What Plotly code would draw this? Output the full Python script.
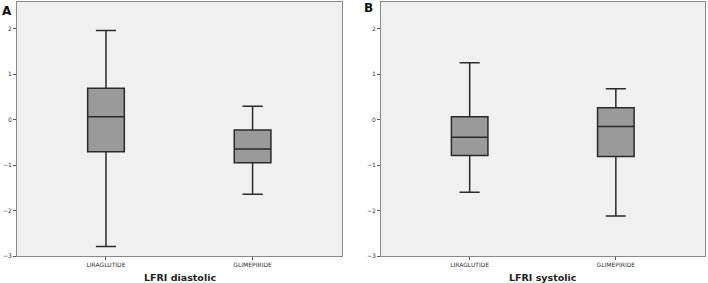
import plotly.graph_objects as go

categories = ["LIRAGLUTIDE", "GLIMEPIRIDE"]

dia_lower = [-2.79, -1.64]
dia_q1 = [-0.71, -0.95]
dia_median = [0.06, -0.65]
dia_q3 = [0.69, -0.23]
dia_upper = [1.96, 0.29]

sys_lower = [-1.60, -2.12]
sys_q1 = [-0.79, -0.81]
sys_median = [-0.39, -0.15]
sys_q3 = [0.06, 0.26]
sys_upper = [1.25, 0.68]

y_ticks = [-3, -2, -1, 0, 1, 2]
panel_titles = ["LFRI diastolic", "LFRI systolic"]
panel_letters = ["A", "B"]

fig = go.Figure()

panels = [
    (dia_lower, dia_q1, dia_median, dia_q3, dia_upper, "x", "y"),
    (sys_lower, sys_q1, sys_median, sys_q3, sys_upper, "x2", "y2"),
]
for lo, q1, med, q3, up, xa, ya in panels:
    fig.add_trace(go.Box(
        x=categories, q1=q1, median=med, q3=q3,
        lowerfence=lo, upperfence=up,
        boxpoints=False, width=0.25, whiskerwidth=0.55,
        fillcolor="#9a9a9a",
        line=dict(color="#2a2a2a", width=1.5),
        xaxis=xa, yaxis=ya, showlegend=False, hoverinfo="skip",
    ))

font_family = "DejaVu Sans"
axis_common = dict(
    showgrid=False, zeroline=False, showline=True, linecolor="#8a8a8a",
    linewidth=1, mirror=True, ticks="outside", ticklen=3, tickcolor="#555",
    tickfont=dict(size=6, color="#333", family=font_family),
)
fig.update_layout(
    width=708, height=283,
    margin=dict(l=17, r=3, t=2, b=27),
    paper_bgcolor="white", plot_bgcolor="#f0f0f0",
    xaxis=dict(domain=[0, 0.4724], type="category", range=[-0.607, 1.61],
               categoryorder="array", categoryarray=categories, **axis_common),
    xaxis2=dict(domain=[0.529, 1], type="category", range=[-0.607, 1.61],
                categoryorder="array", categoryarray=categories, **axis_common),
    yaxis=dict(range=[-3, 2.585], tickvals=y_ticks, anchor="x", **axis_common),
    yaxis2=dict(range=[-3, 2.585], tickvals=y_ticks, anchor="x2", **axis_common),
)

centers = [0.4724 / 2, (0.529 + 1) / 2]
for i in range(2):
    fig.add_annotation(text="<b>" + panel_titles[i] + "</b>", x=centers[i], y=-0.084,
                       xref="paper", yref="paper", showarrow=False,
                       xanchor="center", yanchor="middle",
                       font=dict(size=9.5, color="#222", family=font_family))
fig.add_annotation(text="<b>A</b>", x=-0.024, y=0.965, xref="paper", yref="paper",
                   showarrow=False, xanchor="left", yanchor="middle",
                   font=dict(size=12, color="#111", family=font_family))
fig.add_annotation(text="<b>B</b>", x=0.502, y=0.975, xref="paper", yref="paper",
                   showarrow=False, xanchor="left", yanchor="middle",
                   font=dict(size=12, color="#111", family=font_family))

fig.write_html("out.html", config={"displayModeBar": False},
               post_script="document.body.style.margin='0';document.body.style.padding='0';")
